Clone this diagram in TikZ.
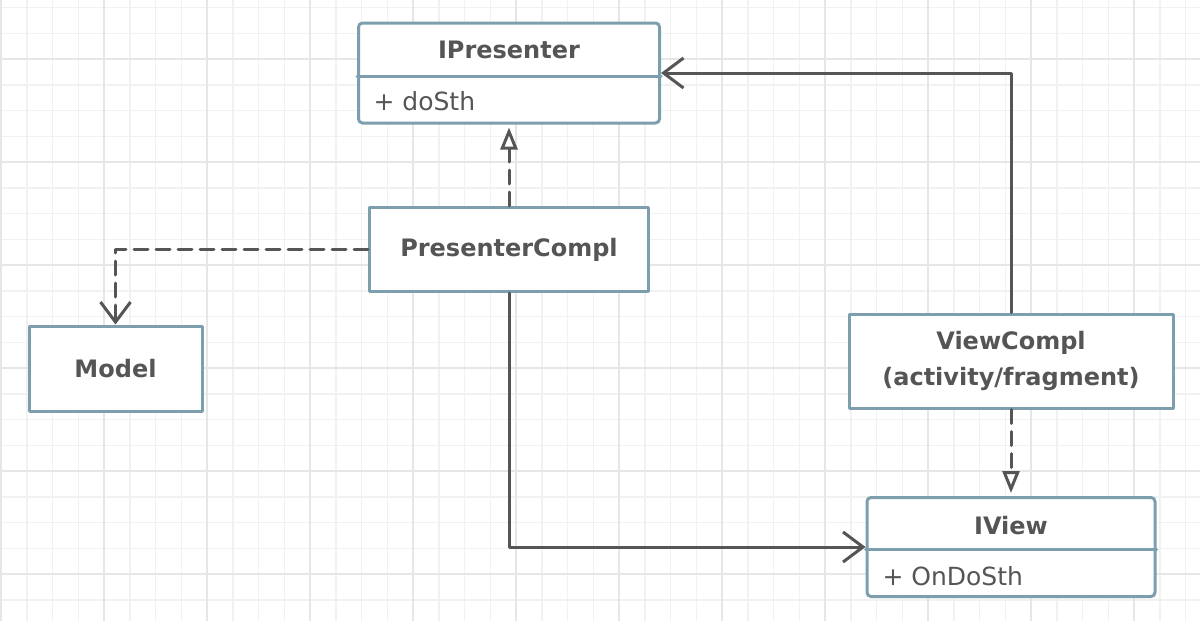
\documentclass[tikz,border=0pt]{standalone}
\usepackage{fontspec}
\setmainfont{DejaVu Sans}
\usetikzlibrary{arrows.meta}
\definecolor{boxline}{HTML}{7D9FAD}
\definecolor{wire}{HTML}{555555}
\definecolor{txt}{HTML}{555555}
\definecolor{gridminor}{HTML}{F1F1F1}
\definecolor{gridmajor}{HTML}{E6E6E6}
\tikzset{
	cls/.style={draw=boxline, line width=3pt, fill=white, rounded corners=4pt},
	obj/.style={draw=boxline, line width=3pt, fill=white},
	title/.style={text=txt, font=\fontsize{24}{36}\selectfont\bfseries, align=center},
	member/.style={text=txt, font=\fontsize{25}{30}\selectfont, anchor=west},
	link/.style={draw=wire, line width=3pt},
	dep/.style={link, dash pattern=on 14pt off 8pt},
	barb/.style={-{Straight Barb[length=20pt,width=30pt]}},
	real/.style={-{Triangle[open,length=22pt,width=17pt,fill=white]}, shorten >=3pt},
}
\begin{document}
\begin{tikzpicture}[x=1pt, y=-1pt, line join=round, line cap=round]
	\useasboundingbox (0,0) rectangle (1200,621);
	\fill[white] (0,0) rectangle (1200,621);
	% grid
	\foreach \k in {0,...,46} \draw[gridminor, line width=1.5pt] ({1+25.75*\k},0) -- ++(0,621);
	\foreach \k in {0,...,23} \draw[gridminor, line width=1.5pt] (0,{7.5+25.75*\k}) -- ++(1200,0);
	\foreach \k in {0,...,11} \draw[gridmajor, line width=2pt] ({1+103*\k},0) -- ++(0,621);
	\foreach \k in {0,...,5} \draw[gridmajor, line width=2pt] (0,{59+103*\k}) -- ++(1200,0);
	% classes
	\node[cls, minimum width=301pt, minimum height=100pt] (ipres) at (509,73) {};
	\draw[boxline, line width=3pt] ([yshift=-3pt]ipres.west) -- ([yshift=-3pt]ipres.east);
	\node[title] (iprestitle) at (509,50) {IPresenter};
	\node[member] (ipresmem) at (370,101) {+ doSth};
	\node[obj, minimum width=279pt, minimum height=84pt] (pcompl) at (509,249.5) {};
	\node[title] at (pcompl) {PresenterCompl};
	\node[obj, minimum width=173pt, minimum height=85pt] (model) at (115.5,368.5) {};
	\node[title] at (model) {Model};
	\node[obj, minimum width=324pt, minimum height=94pt] (vcompl) at (1011,361) {};
	\node[title] at (vcompl) {ViewCompl\\(activity/fragment)};
	\node[cls, minimum width=288pt, minimum height=99pt] (iview) at (1011,547) {};
	\draw[boxline, line width=3pt] ([yshift=-2pt]iview.west) -- ([yshift=-2pt]iview.east);
	\node[title] (iviewtitle) at (1011,526) {IView};
	\node[member] (iviewmem) at (879,576) {+ OnDoSth};
	% links
	\draw[dep, real] (pcompl.north) -- (ipres.south);
	\draw[dep, barb] (pcompl.west) -| (model.north);
	\draw[link, barb] (pcompl.south) |- (iview.west);
	\draw[link, barb] (vcompl.north) |- (ipres.east);
	\draw[dep, real] (vcompl.south) -- (iview.north);
\end{tikzpicture}
\end{document}
